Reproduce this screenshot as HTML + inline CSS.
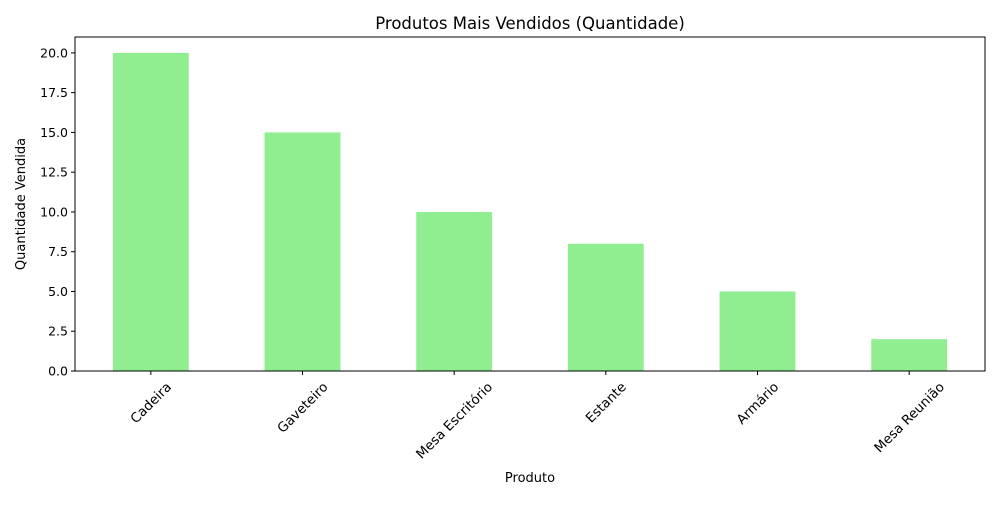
<!DOCTYPE html>
<html><head><meta charset="utf-8"><style>
body{margin:0;background:#fff}
svg{font-family:"DejaVu Sans","Liberation Sans",sans-serif}
</style></head><body>
<svg id="chart" width="1000" height="500">
<text x="530" y="29" font-size="16.5" text-anchor="middle">Produtos Mais Vendidos (Quantidade)</text>
<text x="530" y="482" font-size="13" text-anchor="middle">Produto</text>
<text transform="translate(25,204) rotate(-90)" font-size="13" text-anchor="middle">Quantidade Vendida</text>
<g id="bars"></g><g id="axes"></g>
</svg>
<script>
const categories=["Cadeira","Gaveteiro","Mesa Escritório","Estante","Armário","Mesa Reunião"];
const values=[20,15,10,8,5,2];
const yTicks=[0,2.5,5,7.5,10,12.5,15,17.5,20];
const yTickLabels=["0.0","2.5","5.0","7.5","10.0","12.5","15.0","17.5","20.0"];
const L=75,R=985,T=37,B=371,YMAX=21;
const NS="http://www.w3.org/2000/svg";
const svg=document.getElementById('chart');
const bars=document.getElementById('bars'),axes=document.getElementById('axes');
const band=(R-L)/categories.length;
const xc=i=>L+band*(i+0.5);
const y=v=>B-(B-T)*v/YMAX;
function mk(t,a,p){const e=document.createElementNS(NS,t);for(const k in a)e.setAttribute(k,a[k]);p.appendChild(e);return e;}
values.forEach((v,i)=>{
 const r=mk('rect',{x:xc(i)-band*0.25,y:y(v),width:band*0.5,height:B-y(v),fill:'#90ee90'},bars);
 
 
});
const frame=mk('rect',{x:L,y:T,width:R-L,height:B-T,fill:'none',stroke:'#000','stroke-width':1},axes);


yTicks.forEach((t,i)=>{
 mk('line',{x1:L-4,x2:L,y1:y(t),y2:y(t),stroke:'#000'},axes);
 const tx=mk('text',{x:L-7,y:y(t)+4.5,'font-size':12.5,'text-anchor':'end'},axes);
 tx.textContent=yTickLabels[i];
 
 
});
categories.forEach((c,i)=>{
 const x=xc(i);
 mk('line',{x1:x,x2:x,y1:B,y2:B+4,stroke:'#000'},axes);
 const tx=mk('text',{'font-size':13.3,'text-anchor':'middle'},axes);
 tx.textContent=c;
 
 
 const len=tx.getComputedTextLength();
 const cy=B+9+(len*0.707+13*0.707)/2;
 tx.setAttribute('transform',`translate(${x},${cy}) rotate(-45)`);
 tx.setAttribute('y',4.5);
});
</script>
</body></html>
